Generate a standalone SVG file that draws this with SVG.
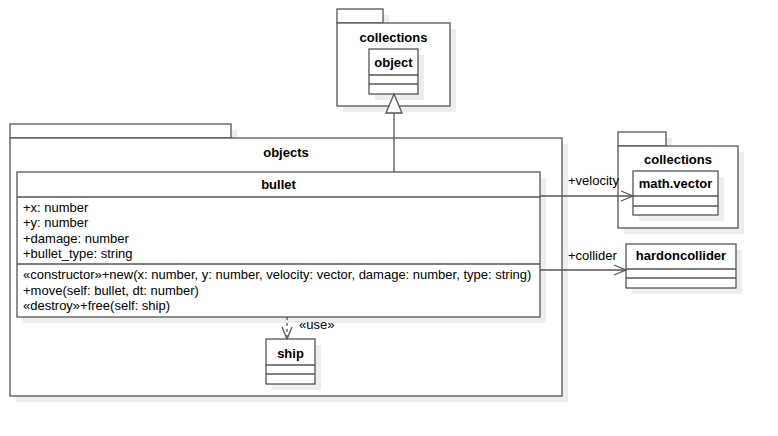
<svg xmlns="http://www.w3.org/2000/svg" width="778" height="436" viewBox="0 0 778 436">
<defs>
<style>
.sh{fill:#eeeeee;stroke:none}
.bx{fill:#ffffff;stroke:#555555;stroke-width:1.3}
.ln{fill:none;stroke:#555555;stroke-width:1.3}
.t{font-family:"Liberation Sans",Arial,sans-serif;font-size:13px;fill:#000}
.b{font-family:"Liberation Sans",Arial,sans-serif;font-size:13px;font-weight:bold;fill:#000}
</style>
<marker id="open" markerWidth="14" markerHeight="12" refX="13" refY="6" orient="auto" markerUnits="userSpaceOnUse">
<path d="M1,1 L13,6 L1,11" fill="none" stroke="#555555" stroke-width="1.3"/>
</marker>
</defs>
<rect width="778" height="436" fill="#ffffff"/>

<g id="pkg-collections-top">
<rect class="sh" x="343" y="15" width="46" height="14"/>
<rect class="sh" x="343" y="29" width="113" height="83"/>
<rect class="bx" x="337" y="9" width="46" height="14"/>
<rect class="bx" x="337" y="23" width="113" height="83"/>
<text class="b" x="393.5" y="42" text-anchor="middle">collections</text>
</g>
<g id="cls-object">
<rect class="sh" x="375" y="55" width="49" height="45"/>
<rect class="bx" x="369" y="49" width="49" height="45"/>
<line class="ln" x1="369" y1="75" x2="418" y2="75"/>
<line class="ln" x1="369" y1="84" x2="418" y2="84"/>
<text class="b" x="393.5" y="67" text-anchor="middle">object</text>
</g>

<g id="pkg-objects">
<rect class="sh" x="16" y="130" width="221" height="14"/>
<rect class="sh" x="16" y="144" width="552" height="258"/>
<rect class="bx" x="10" y="124" width="221" height="14"/>
<rect class="bx" x="10" y="138" width="552" height="258"/>
<text class="b" x="286" y="157" text-anchor="middle">objects</text>
</g>

<g id="pkg-collections-right">
<rect class="sh" x="624" y="138" width="48" height="14"/>
<rect class="sh" x="624" y="152" width="120" height="82"/>
<rect class="bx" x="618" y="132" width="48" height="14"/>
<rect class="bx" x="618" y="146" width="120" height="82"/>
<text class="b" x="678" y="164" text-anchor="middle">collections</text>
</g>
<g id="cls-math-vector">
<rect class="sh" x="639" y="177" width="85" height="44"/>
<rect class="bx" x="633" y="171" width="85" height="44"/>
<line class="ln" x1="633" y1="196" x2="718" y2="196"/>
<line class="ln" x1="633" y1="206" x2="718" y2="206"/>
<text class="b" x="675.5" y="188" text-anchor="middle">math.vector</text>
</g>

<g id="cls-hardoncollider">
<rect class="sh" x="632" y="250" width="110" height="44"/>
<rect class="bx" x="626" y="244" width="110" height="44"/>
<line class="ln" x1="626" y1="269" x2="736" y2="269"/>
<line class="ln" x1="626" y1="278" x2="736" y2="278"/>
<text class="b" x="681" y="260" text-anchor="middle">hardoncollider</text>
</g>

<g id="cls-bullet">
<rect class="sh" x="23" y="178" width="523" height="145"/>
<rect class="bx" x="17" y="172" width="523" height="145"/>
<line class="ln" x1="17" y1="197" x2="540" y2="197"/>
<line class="ln" x1="17" y1="264" x2="540" y2="264"/>
<text class="b" x="278.5" y="189" text-anchor="middle">bullet</text>
<text class="t" x="23" y="212">+x: number</text>
<text class="t" x="23" y="227">+y: number</text>
<text class="t" x="23" y="243">+damage: number</text>
<text class="t" x="23" y="258">+bullet_type: string</text>
<text class="t" x="23" y="279">«constructor»+new(x: number, y: number, velocity: vector, damage: number, type: string)</text>
<text class="t" x="23" y="295">+move(self: bullet, dt: number)</text>
<text class="t" x="23" y="310">«destroy»+free(self: ship)</text>
</g>

<g id="cls-ship">
<rect class="sh" x="272" y="345" width="49" height="45"/>
<rect class="bx" x="266" y="339" width="49" height="45"/>
<line class="ln" x1="266" y1="365" x2="315" y2="365"/>
<line class="ln" x1="266" y1="374" x2="315" y2="374"/>
<text class="b" x="290.5" y="358" text-anchor="middle">ship</text>
</g>

<g id="connectors">
<line class="ln" x1="394" y1="113" x2="394" y2="172"/>
<path d="M394,94 L402,113 L386,113 Z" fill="#ffffff" stroke="#555555" stroke-width="1.3"/>
<line class="ln" x1="540" y1="196" x2="633" y2="196" marker-end="url(#open)"/>
<text class="t" x="568" y="185">+velocity</text>
<line class="ln" x1="540" y1="270" x2="626" y2="270" marker-end="url(#open)"/>
<text class="t" x="568" y="260">+collider</text>
<line class="ln" x1="287" y1="317" x2="287" y2="339" stroke-dasharray="3,3" marker-end="url(#open)"/>
<text class="t" x="299" y="329" font-size="12">«use»</text>
</g>
</svg>
